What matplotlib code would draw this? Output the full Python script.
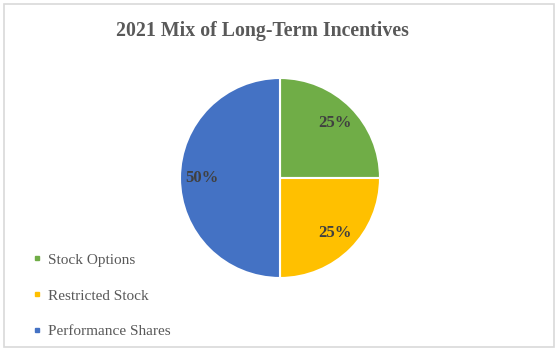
import matplotlib
matplotlib.use("Agg")
from matplotlib import pyplot as plt
from matplotlib.lines import Line2D
from matplotlib.patches import Rectangle

labels = ["Stock Options", "Restricted Stock", "Performance Shares"]
shares = [25, 25, 50]
colors = ["#70AD47", "#FFC000", "#4472C4"]
title = "2021 Mix of Long-Term Incentives"

plt.rcParams['font.family'] = ['Liberation Serif', 'DejaVu Serif']

fig = plt.figure(figsize=(5.6, 3.53), dpi=100)

# light grey chart frame
fig.patches.append(Rectangle((4/560, 6/353), 550/560, 343/353, transform=fig.transFigure,
                             fill=False, edgecolor="#D9D9D9", linewidth=1.2))

fig.text(262/560, 1 - 31/353, title, ha="center", va="center",
         fontsize=14.3, fontweight="bold", color="#595959")

ax = fig.add_axes([180/560, 75/353, 200/560, 200/353])
wedges, texts, autotexts = ax.pie(shares, colors=colors, startangle=90, counterclock=False,
                                  autopct="%1.0f%%", pctdistance=0.78,
                                  wedgeprops=dict(edgecolor="white", linewidth=1.5),
                                  textprops=dict(fontsize=12, fontweight="bold", color="#404040"))
ax.set_xlim(-1, 1)
ax.set_ylim(-1, 1)
ax.set_aspect("equal")

handles = [Line2D([], [], marker="s", linestyle="none", markersize=3.5,
                  markerfacecolor=c, markeredgecolor=c) for c in colors]
fig.legend(handles, labels, loc="upper left", bbox_to_anchor=(31/560, 1 - 253/353),
           frameon=False, fontsize=11, labelcolor="#595959", labelspacing=1.45,
           handlelength=0.8, handletextpad=0.3, borderpad=0, borderaxespad=0)

fig.savefig("out.png", dpi=100)
